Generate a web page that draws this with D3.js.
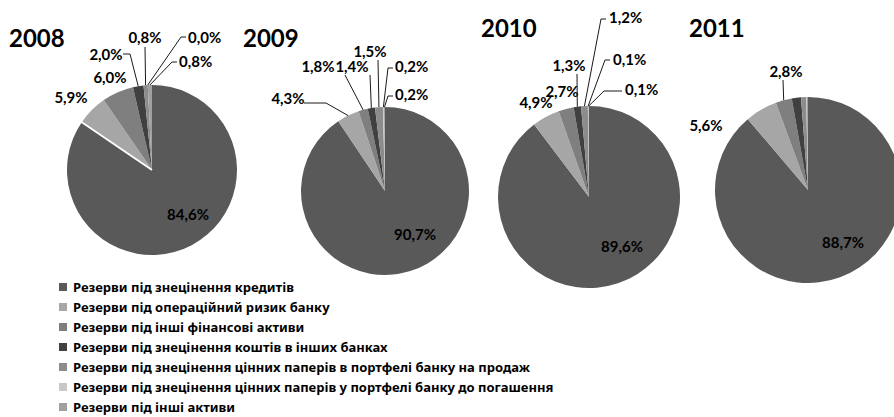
<!DOCTYPE html>
<html>
<head>
<meta charset="utf-8">
<script src="https://cdn.jsdelivr.net/npm/d3@7/dist/d3.min.js"></script>
<style>
  body { margin: 0; background: #fff; }
  .pct { font-family: Lato, "Open Sans", sans-serif; font-weight: bold; font-size: 15px; fill: #000; }
  .ttl { font-family: Lato, "Open Sans", sans-serif; font-weight: bold; font-size: 24px; fill: #000; }
  .leg { font-family: "Noto Sans", sans-serif; font-weight: bold; font-size: 13px; fill: #000; }
</style>
</head>
<body>
<svg id="chart" width="894" height="417"></svg>
<script>
// categories (legend order = slice order, clockwise from 12 o'clock)
const categories = [
  "Резерви під знецінення кредитів",
  "Резерви під операційний ризик банку",
  "Резерви під інші фінансові активи",
  "Резерви під знецінення коштів в інших банках",
  "Резерви під знецінення цінних паперів в портфелі банку на продаж",
  "Резерви під знецінення цінних паперів у портфелі банку до погашення",
  "Резерви під інші активи"
];
const years = ["2008", "2009", "2010", "2011"];
const shares2008 = [84.6, 5.9, 6.0, 2.0, 0.8, 0.0, 0.8];
const shares2009 = [90.7, 4.3, 1.8, 1.4, 1.5, 0.2, 0.2];
const shares2010 = [89.6, 4.9, 2.7, 1.3, 1.2, 0.1, 0.1];
const shares2011 = [88.7, 5.6, 2.8, 1.6, 0.9, 0.1, 0.2];
const colors = ["#595959", "#a6a6a6", "#7f7f7f", "#404040", "#8c8c8c", "#c8c8c8", "#a0a0a0"];

// layout of each pie and its hand-placed labels
const pies = [
  {year: years[0], values: shares2008, cx: 152, cy: 170, r: 85, tx: 9, ty: 47, gap: 1,
   labels: [
     {i: 0, x: 188, y: 220}, {i: 1, x: 71, y: 103}, {i: 2, x: 110, y: 83},
     {i: 3, x: 106, y: 60, from: [123, 54], elbow: [130, 54]},
     {i: 4, x: 145, y: 43, from: [145, 47]},
     {i: 5, x: 188, y: 43, a: "start", from: [186, 37], elbow: [181, 37]},
     {i: 6, x: 179, y: 67, a: "start", from: [177, 62], elbow: [172, 62]}
   ]},
  {year: years[1], values: shares2009, cx: 385, cy: 191, r: 84, tx: 243, ty: 47,
   labels: [
     {i: 0, x: 415, y: 240},
     {i: 1, x: 288, y: 104, from: [304, 103], elbow: [326, 103]},
     {i: 2, x: 318, y: 72, from: [345, 75]},
     {i: 3, x: 352, y: 72, from: [370, 75]},
     {i: 4, x: 370, y: 57, from: [378, 60]},
     {i: 5, x: 395, y: 72, a: "start", from: [393, 68], elbow: [388, 68]},
     {i: 6, x: 395, y: 100, a: "start", from: [393, 96], elbow: [388, 96]}
   ]},
  {year: years[2], values: shares2010, cx: 589, cy: 197, r: 91, tx: 481, ty: 37,
   labels: [
     {i: 0, x: 622, y: 252}, {i: 1, x: 536, y: 108}, {i: 2, x: 562, y: 97},
     {i: 3, x: 569, y: 71, from: [577, 74]},
     {i: 4, x: 609, y: 23, a: "start", from: [606, 19], elbow: [601, 19]},
     {i: 5, x: 613, y: 65, a: "start", from: [610, 60], elbow: [605, 60]},
     {i: 6, x: 625, y: 95, a: "start", from: [622, 91], elbow: [604, 91]}
   ]},
  {year: years[3], values: shares2011, cx: 808, cy: 190, r: 93, tx: 689, ty: 37,
   labels: [
     {i: 0, x: 843, y: 248}, {i: 1, x: 706, y: 131},
     {i: 2, x: 786, y: 77, from: [783, 80]}
   ]}
];

const fmt = v => v.toFixed(1).replace(".", ",") + "%";

var svg = d3.select("#chart");
var pie = d3.pie().sort(null).value(d => d);

pies.forEach(function(p) {
  var arcs = pie(p.values);
  var arc = d3.arc().innerRadius(0).outerRadius(p.r);
  var g = svg.append("g").attr("transform", "translate(" + p.cx + "," + p.cy + ")");
  g.selectAll("path")
    .data(arcs)
    .enter()
    .append("path")
    .attr("d", arc)
    .attr("fill", (d, i) => colors[i]);

  // white seam at start of slice p.gap (2008 only)
  if (p.gap != null) {
    var a = arcs[p.gap].startAngle;
    g.append("line")
      .attr("x1", 0).attr("y1", 0)
      .attr("x2", p.r * Math.sin(a) * 1.02).attr("y2", -p.r * Math.cos(a) * 1.02)
      .attr("stroke", "#fff").attr("stroke-width", 1.8);
  }

  svg.append("text").attr("class", "ttl")
    .attr("x", p.tx).attr("y", p.ty).text(p.year);

  p.labels.forEach(function(l) {
    var d = arcs[l.i];
    if (l.from) {
      var mid = (d.startAngle + d.endAngle) / 2;
      var end = [p.cx + p.r * Math.sin(mid), p.cy - p.r * Math.cos(mid)];
      var pts = [l.from];
      if (l.elbow) pts.push(l.elbow);
      pts.push(end);
      svg.append("path")
        .attr("d", d3.line()(pts))
        .attr("fill", "none")
        .attr("stroke", "#1a1a1a")
        .attr("stroke-width", 1);
    }
    svg.append("text").attr("class", "pct")
      .attr("x", l.x).attr("y", l.y)
      .attr("text-anchor", l.a || "middle")
      .text(fmt(p.values[l.i]));
  });
});

// legend
var leg = svg.append("g").attr("transform", "translate(59,287)");
var rows = leg.selectAll("g")
  .data(categories)
  .enter()
  .append("g")
  .attr("transform", (d, i) => "translate(0," + (i * 20) + ")");
rows.append("rect")
  .attr("x", 0).attr("y", -4).attr("width", 8).attr("height", 8)
  .attr("fill", (d, i) => colors[i]);
rows.append("text").attr("class", "leg")
  .attr("x", 14).attr("y", 4.5)
  .text(d => d);
</script>
</body>
</html>
